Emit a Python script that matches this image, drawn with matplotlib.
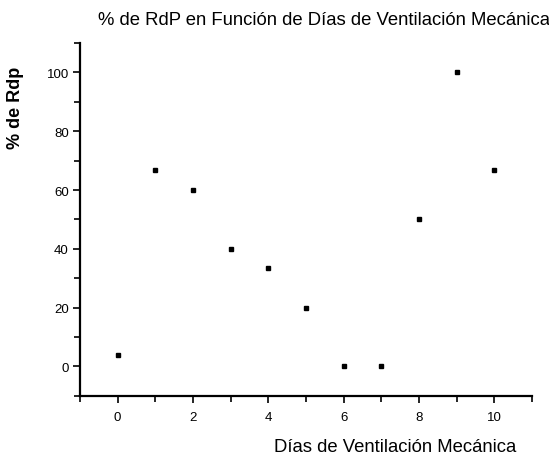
import matplotlib
matplotlib.use("Agg")
import matplotlib.pyplot as plt
from matplotlib.ticker import MultipleLocator

plt.rcParams['font.family'] = ['Liberation Sans', 'DejaVu Sans']

# dias de ventilacion vs porcentaje de RdP
dias = [0, 1, 2, 3, 4, 5, 6, 7, 8, 9, 10]
pct_rdp = [3.8, 66.7, 60, 40, 33.3, 20, 0, 0, 50, 100, 66.7]

fig = plt.figure(figsize=(5.49, 4.64), dpi=100)
ax = fig.add_axes([0.1457, 0.145, 0.8233, 0.760])

ax.plot(dias, pct_rdp, 's', color='black', markersize=2.4)

ax.set_xlim(-1, 11)
ax.set_ylim(-10, 110)
ax.xaxis.set_major_locator(MultipleLocator(2))
ax.xaxis.set_minor_locator(MultipleLocator(1))
ax.yaxis.set_major_locator(MultipleLocator(20))
ax.yaxis.set_minor_locator(MultipleLocator(10))

for s in ['top', 'right']:
    ax.spines[s].set_visible(False)
for s in ['left', 'bottom']:
    ax.spines[s].set_linewidth(1.6)

ax.tick_params(which='both', direction='out', width=1.2, labelsize=9.5)
ax.tick_params(which='major', length=5)
ax.tick_params(which='minor', length=4)
ax.tick_params(axis='x', pad=6)
ax.tick_params(axis='y', pad=3)

fig.text(0.178, 0.955, "% de RdP en Función de Días de Ventilación Mecánica",
         fontsize=13.3, va='center', ha='left')
fig.text(0.028, 0.768, "% de Rdp", rotation=90, fontsize=13, fontweight='bold',
         va='center', ha='center')
fig.text(0.50, 0.036, "Días de Ventilación Mecánica", fontsize=13.3,
         va='center', ha='left')

fig.savefig("out.png", dpi=100)
